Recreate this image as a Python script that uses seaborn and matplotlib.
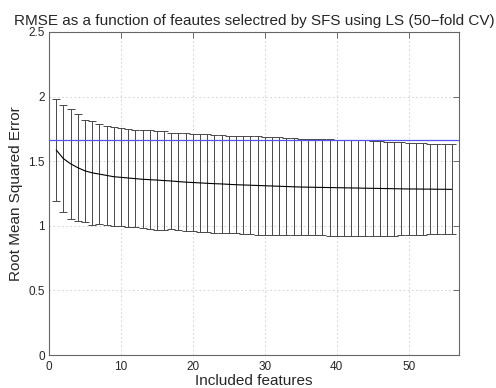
import numpy as np
import pandas as pd
import matplotlib
matplotlib.use("Agg")
import matplotlib.pyplot as plt
import seaborn as sns

features = list(range(1, 57))
mean_rmse = [1.587, 1.52, 1.48, 1.45, 1.425, 1.41, 1.40, 1.39, 1.38, 1.375,
             1.37, 1.365, 1.36, 1.357, 1.354, 1.35, 1.347, 1.342, 1.338, 1.335,
             1.332, 1.329, 1.326, 1.324, 1.321, 1.318, 1.316, 1.314, 1.312, 1.310,
             1.308, 1.306, 1.304, 1.302, 1.300, 1.299, 1.298, 1.297, 1.296, 1.295,
             1.294, 1.293, 1.292, 1.291, 1.290, 1.289, 1.288, 1.287, 1.286, 1.285,
             1.285, 1.284, 1.284, 1.283, 1.283, 1.282]
upper_rmse = [1.979, 1.932, 1.906, 1.863, 1.819, 1.811, 1.786, 1.772, 1.762, 1.754,
              1.749, 1.742, 1.740, 1.738, 1.737, 1.733, 1.722, 1.720, 1.716, 1.713,
              1.710, 1.707, 1.705, 1.700, 1.697, 1.695, 1.693, 1.693, 1.692, 1.690,
              1.688, 1.684, 1.680, 1.676, 1.672, 1.670, 1.669, 1.668, 1.668, 1.667,
              1.667, 1.666, 1.666, 1.664, 1.660, 1.656, 1.652, 1.650, 1.647, 1.643,
              1.640, 1.637, 1.635, 1.633, 1.632, 1.630]
baseline_rmse = 1.667

title = "RMSE as a function of feautes selectred by SFS using LS (50\u2212fold CV)"
xlabel = "Included features"
ylabel = "Root Mean Squared Error"

df = pd.DataFrame({"features": features, "mean": mean_rmse, "upper": upper_rmse})
df["err"] = df["upper"] - df["mean"]

sns.set_style("white")
plt.rcParams["font.family"] = ["Liberation Sans", "DejaVu Sans"]

fig = plt.figure(figsize=(4.96, 3.88), dpi=100)
ax = fig.add_axes([49/496, 33/388, 410/496, 323/388])

ax.errorbar(df["features"], df["mean"], yerr=df["err"], fmt="none",
            ecolor="#484848", elinewidth=0.7, capsize=3, capthick=0.7, zorder=3)
sns.lineplot(data=df, x="features", y="mean", color="black", linewidth=0.8, ax=ax, zorder=4)
ax.axhline(baseline_rmse, color="#5555ee", linewidth=0.9, zorder=5)

ax.set_xlim(0, 57)
ax.set_ylim(0, 2.5)
ax.set_xticks([0, 10, 20, 30, 40, 50])
ax.set_yticks([0, 0.5, 1, 1.5, 2, 2.5])
ax.set_yticklabels(["0", "0.5", "1", "1.5", "2", "2.5"])
ax.grid(True, linestyle=(0, (2, 3)), color="#cccccc", linewidth=0.6)
ax.tick_params(direction="in", length=4, width=0.6, color="#555555",
               labelsize=8.5, top=True, right=True)
ax.tick_params(axis="x", pad=4)
ax.tick_params(axis="y", pad=3)
for s in ax.spines.values():
    s.set_color("#666666")
    s.set_linewidth(0.8)

ax.set_title(title, fontsize=11, pad=5)
ax.set_xlabel(xlabel, fontsize=11, labelpad=1)
ax.set_ylabel(ylabel, fontsize=11, labelpad=4)

fig.savefig("out.png", dpi=100)
